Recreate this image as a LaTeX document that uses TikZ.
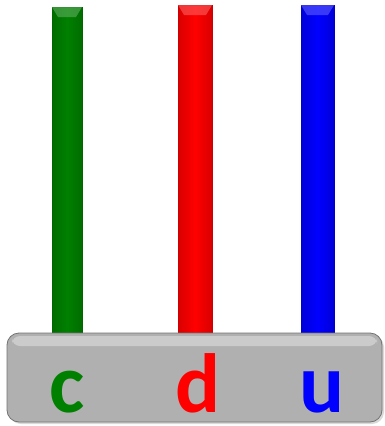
\documentclass[tikz,border=0pt]{standalone}
\usepackage{fontspec}
\setsansfont{Carlito}
\usetikzlibrary{shadows}
\definecolor{qgreen}{HTML}{008000}
\definecolor{qred}{HTML}{FF0000}
\definecolor{qblue}{HTML}{0000FF}
\definecolor{basegray}{HTML}{B0B0B0}
\tikzset{
  quark/.style={left color=#1!85!black, right color=#1!85!black, middle color=#1, draw=#1!80!black, line width=0.4pt},
  bevel/.style={fill=#1!60!white, opacity=0.55},
  flavour/.style={anchor=base, font=\sffamily\bfseries\fontsize{84}{84}\selectfont, text=#1, inner sep=0pt}
}

\begin{document}
\begin{tikzpicture}[x=1pt, y=-1pt]
    \useasboundingbox (0,0) rectangle (384,426);
    % the three bars
    \shade[quark=qgreen] (52,7) rectangle (82,340);
    \fill[bevel=qgreen] (52,7) -- (82,7) -- (76,17) -- (58,17) -- cycle;
    \shade[quark=qred] (178,5) rectangle (212,340);
    \fill[bevel=qred] (178,5) -- (212,5) -- (206,15) -- (184,15) -- cycle;
    \shade[quark=qblue] (301,5) rectangle (334,340);
    \fill[bevel=qblue] (301,5) -- (334,5) -- (328,15) -- (307,15) -- cycle;
    % base
    \draw[rounded corners=12pt, fill=basegray, draw=gray!90!black, line width=0.8pt,
          drop shadow={shadow xshift=2pt, shadow yshift=-2pt, opacity=0.3}]
        (7,333) rectangle (382,422);
    \fill[white, opacity=0.35, rounded corners=8pt] (12,336) rectangle (377,346);
    \node[flavour=qgreen] (c) at (67,412) {c};
    \node[flavour=qred]   (d) at (198,412) {d};
    \node[flavour=qblue]  (u) at (322,412) {u};
\end{tikzpicture}
\end{document}
